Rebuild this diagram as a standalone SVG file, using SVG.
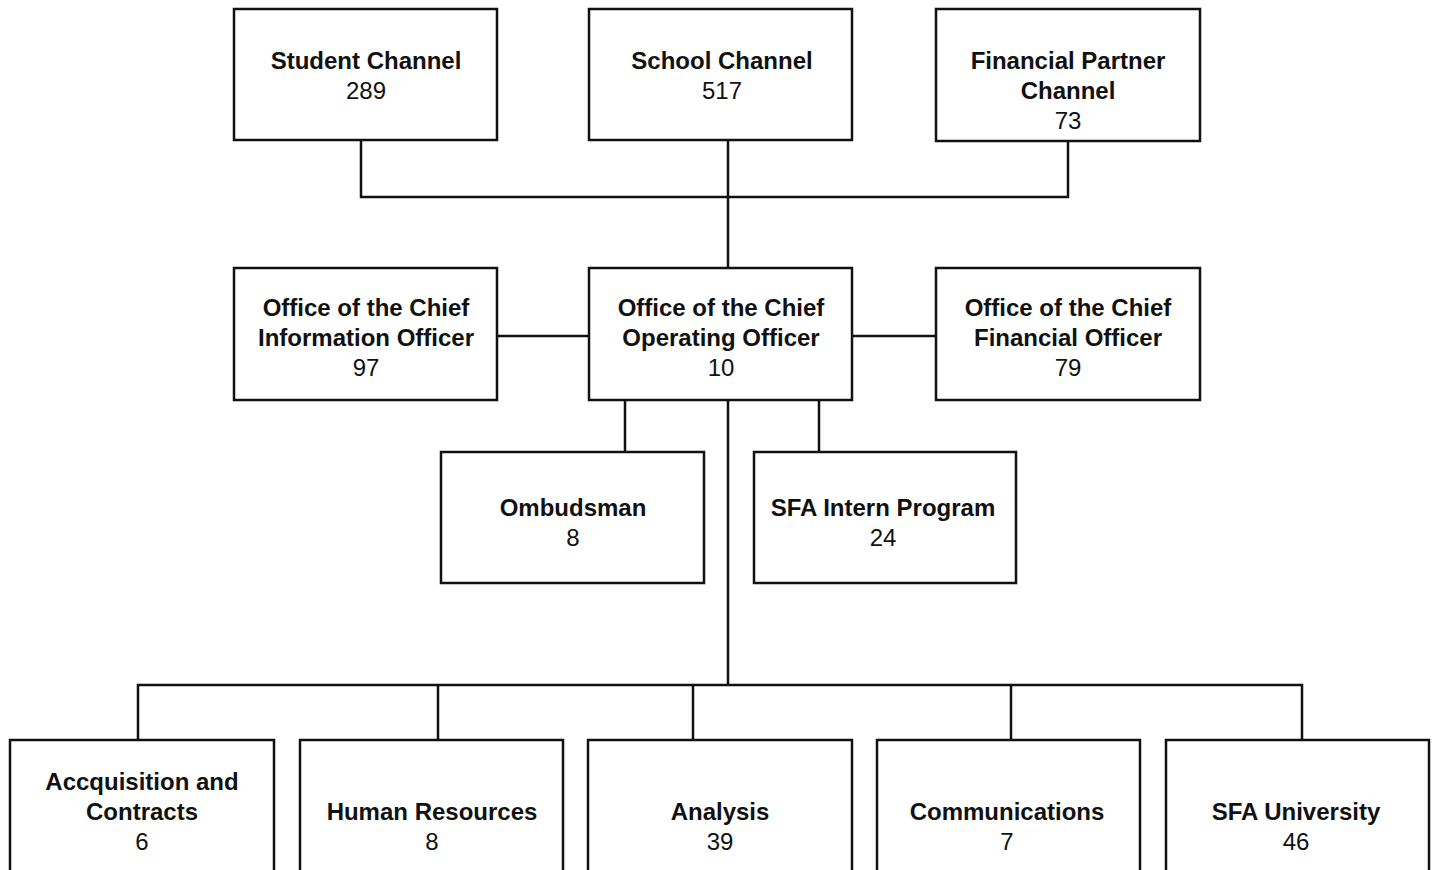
<svg xmlns="http://www.w3.org/2000/svg" width="1436" height="870" viewBox="0 0 1436 870">
<style>
.box{fill:#fff;stroke:#111;stroke-width:2.5}
.t{font-family:"Liberation Sans",Arial,sans-serif;font-size:24px;text-anchor:middle;fill:#111}
.b{font-weight:bold}
.c{fill:none;stroke:#111;stroke-width:2.5}
</style>
<rect width="1436" height="870" fill="#fff"/>
<g id="connectors">
<path class="c" d="M361 140V197H1068V141"/>
<path class="c" d="M728 140V268"/>
<path class="c" d="M497 336H589M852 336H936"/>
<path class="c" d="M625 400V452M819 400V452"/>
<path class="c" d="M728 400V685"/>
<path class="c" d="M138 740V685H1302V740M438 685V740M693 685V740M1011 685V740"/>
</g>
<g id="student"><rect class="box" x="234" y="9" width="263" height="131"/><text class="t b" x="366" y="69">Student Channel</text><text class="t" x="366" y="99">289</text></g>
<g id="school"><rect class="box" x="589" y="9" width="263" height="131"/><text class="t b" x="722" y="69">School Channel</text><text class="t" x="722" y="99">517</text></g>
<g id="financial"><rect class="box" x="936" y="9" width="264" height="132"/><text class="t b" x="1068" y="69">Financial Partner</text><text class="t b" x="1068" y="99">Channel</text><text class="t" x="1068" y="129">73</text></g>
<g id="cio"><rect class="box" x="234" y="268" width="263" height="132"/><text class="t b" x="366" y="316">Office of the Chief</text><text class="t b" x="366" y="346">Information Officer</text><text class="t" x="366" y="376">97</text></g>
<g id="coo"><rect class="box" x="589" y="268" width="263" height="132"/><text class="t b" x="721" y="316">Office of the Chief</text><text class="t b" x="721" y="346">Operating Officer</text><text class="t" x="721" y="376">10</text></g>
<g id="cfo"><rect class="box" x="936" y="268" width="264" height="132"/><text class="t b" x="1068" y="316">Office of the Chief</text><text class="t b" x="1068" y="346">Financial Officer</text><text class="t" x="1068" y="376">79</text></g>
<g id="ombudsman"><rect class="box" x="441" y="452" width="263" height="131"/><text class="t b" x="573" y="516">Ombudsman</text><text class="t" x="573" y="546">8</text></g>
<g id="intern"><rect class="box" x="754" y="452" width="262" height="131"/><text class="t b" x="883" y="516">SFA Intern Program</text><text class="t" x="883" y="546">24</text></g>
<g id="acq"><rect class="box" x="10" y="740" width="264" height="140"/><text class="t b" x="142" y="790">Accquisition and</text><text class="t b" x="142" y="820">Contracts</text><text class="t" x="142" y="850">6</text></g>
<g id="hr"><rect class="box" x="300" y="740" width="263" height="140"/><text class="t b" x="432" y="820">Human Resources</text><text class="t" x="432" y="850">8</text></g>
<g id="analysis"><rect class="box" x="588" y="740" width="264" height="140"/><text class="t b" x="720" y="820">Analysis</text><text class="t" x="720" y="850">39</text></g>
<g id="comm"><rect class="box" x="877" y="740" width="263" height="140"/><text class="t b" x="1007" y="820">Communications</text><text class="t" x="1007" y="850">7</text></g>
<g id="sfau"><rect class="box" x="1166" y="740" width="263" height="140"/><text class="t b" x="1296" y="820">SFA University</text><text class="t" x="1296" y="850">46</text></g>
</svg>
